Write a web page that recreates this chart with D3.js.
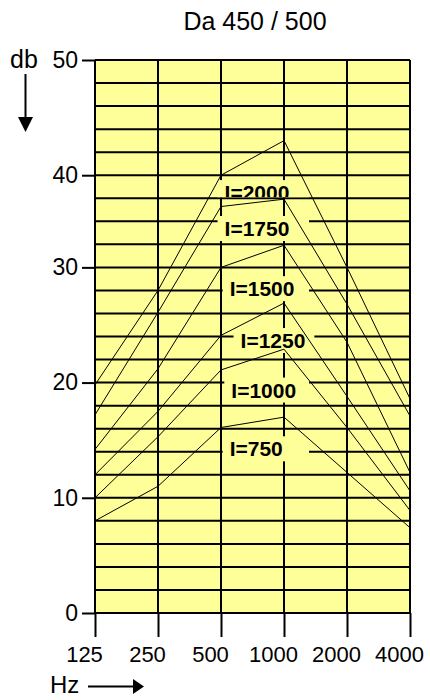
<!DOCTYPE html>
<html>
<head>
<meta charset="utf-8">
<title>Da 450 / 500</title>
<script src="https://cdn.jsdelivr.net/npm/d3@7"></script>
<style>
  body { margin: 0; background: #fff; }
  svg text { font-family: Arial, "Liberation Sans", Helvetica, sans-serif; fill: #000; }
</style>
</head>
<body>
<div id="chart"></div>
<script>
  // frequencies (octaves) and dB scale as printed on the sheet
  var freqs = [125, 250, 500, 1000, 2000, 4000];
  var freqLabels = ["125", "250", "500", "1000", "2000", "4000"];
  var dbTicks = [0, 10, 20, 30, 40, 50];
  var dbTickRows = [0, 5, 10, 15, 19, 24]; // grid row each label sits on (30-40 has only 4 rows)
  var gridRows = 24;

  var seriesNames = ["I=2000", "I=1750", "I=1500", "I=1250", "I=1000", "I=750"];
  var db2000 = [19.8, 28.0, 40.0, 43.0, 30.0, 18.6];
  var db1750 = [17.2, 26.1, 36.6, 37.4, 26.8, 17.1];
  var db1500 = [14.2, 21.2, 30.0, 32.4, 23.5, 12.2];
  var db1250 = [12.0, 17.5, 24.1, 26.9, 18.8, 10.6];
  var db1000 = [10.0, 15.3, 21.1, 22.9, 16.1, 8.9];
  var db750 = [8.0, 11.0, 16.1, 17.0, 12.2, 7.4];
  var series = [db2000, db1750, db1500, db1250, db1000, db750];

  // where each curve's label sits (baseline level in dB, left edge in Hz)
  var labelDb = [37.3, 33.4, 27.5, 23.0, 18.7, 13.6];
  var labelHz = [520, 520, 550, 620, 560, 550];

  var width = 430, height = 700;
  var plotLeft = 95, plotRight = 410, plotTop = 60, plotBottom = 613;

  var svg = d3.select("#chart").append("svg")
    .attr("width", width)
    .attr("height", height);

  var x = d3.scaleLog().base(2).domain([125, 4000]).range([plotLeft, plotRight]);
  var row = d3.scaleLinear().domain([0, gridRows]).range([plotBottom, plotTop]);
  var y = d3.scaleLinear().domain(dbTicks).range(dbTickRows.map(function(r) { return row(r); }));

  // title
  svg.append("text")
    .attr("x", 255).attr("y", 30)
    .attr("text-anchor", "middle")
    .style("font-size", "25px")
    .text("Da 450 / 500");

  // plot background
  svg.append("rect")
    .attr("x", plotLeft).attr("y", plotTop)
    .attr("width", plotRight - plotLeft).attr("height", plotBottom - plotTop)
    .attr("fill", "#ffff99");

  // grid
  var grid = svg.append("g").attr("stroke", "#000").attr("stroke-width", 2);
  grid.selectAll("line.h").data(d3.range(gridRows + 1)).enter().append("line")
    .attr("class", "h")
    .attr("x1", plotLeft).attr("x2", plotRight)
    .attr("y1", function(d) { return row(d); })
    .attr("y2", function(d) { return row(d); });
  grid.selectAll("line.v").data(freqs).enter().append("line")
    .attr("class", "v")
    .attr("x1", function(d) { return x(d); })
    .attr("x2", function(d) { return x(d); })
    .attr("y1", plotTop).attr("y2", plotBottom);

  // axes
  var yAxis = svg.append("g")
    .attr("transform", "translate(" + plotLeft + ",0)")
    .call(d3.axisLeft(y).tickValues(dbTicks).tickSize(13).tickPadding(4).tickFormat(d3.format("d")));
  var xAxis = svg.append("g")
    .attr("transform", "translate(0," + plotBottom + ")")
    .call(d3.axisBottom(x).tickValues(freqs).tickSize(24).tickPadding(9)
      .tickFormat(function(d, i) { return freqLabels[i]; }));
  [yAxis, xAxis].forEach(function(a) {
    a.select(".domain").remove();
    a.selectAll(".tick line").attr("stroke", "#000").attr("stroke-width", 2);
    a.selectAll(".tick text").attr("fill", "#000")
      .style("font-family", "Arial, 'Liberation Sans', sans-serif");
  });
  yAxis.selectAll(".tick text").style("font-size", "23px");
  xAxis.selectAll(".tick text").style("font-size", "22px").attr("dx", -11);

  // axis captions with arrows
  svg.append("text").attr("x", 10).attr("y", 68).style("font-size", "25px").text("db");
  svg.append("line").attr("x1", 25.5).attr("x2", 25.5).attr("y1", 74).attr("y2", 120)
    .attr("stroke", "#000").attr("stroke-width", 2);
  svg.append("path").attr("d", "M18,117 L33,117 L25.5,132 Z").attr("fill", "#000");

  svg.append("text").attr("x", 50).attr("y", 693).style("font-size", "24px").text("Hz");
  svg.append("line").attr("x1", 88).attr("x2", 135).attr("y1", 686.5).attr("y2", 686.5)
    .attr("stroke", "#000").attr("stroke-width", 2);
  svg.append("path").attr("d", "M133,679 L133,694 L144,686.5 Z").attr("fill", "#000");

  // curve labels on yellow patches (they cover the grid)
  var rowYs = d3.range(gridRows + 1).map(function(r) { return row(r); });
  var labels = svg.append("g");
  seriesNames.forEach(function(name, i) {
    var tx = x(labelHz[i]), ty = y(labelDb[i]);
    var g = labels.append("g");
    var t = g.append("text")
      .attr("x", tx).attr("y", ty)
      .style("font-size", "21px").style("font-weight", "bold")
      .text(name);
    var bb = t.node().getBBox();
    // patch stops just above a grid line that runs through the foot of the text
    var below = rowYs.filter(function(r) { return r > ty - 2.5; });
    var boxBottom = below.length ? Math.min(ty + 5, d3.min(below) - 1) : ty + 5;
    var boxTop = ty - 20;
    var x0 = tx - 7, x1 = Math.max(bb.x + bb.width + 9, 309);
    var clipId = "clip" + i;
    g.append("clipPath").attr("id", clipId).append("rect")
      .attr("x", x0).attr("y", boxTop).attr("width", x1 - x0).attr("height", boxBottom - boxTop);
    g.insert("rect", "text")
      .attr("x", x0).attr("y", boxTop)
      .attr("width", x1 - x0).attr("height", boxBottom - boxTop)
      .attr("fill", "#ffff99");
    t.attr("clip-path", "url(#" + clipId + ")");
  });

  // curves
  var line = d3.line()
    .x(function(d, i) { return x(freqs[i]); })
    .y(function(d) { return y(d); });
  svg.append("g").selectAll("path").data(series).enter().append("path")
    .attr("d", line)
    .attr("fill", "none")
    .attr("stroke", "#000")
    .attr("stroke-width", 1);
</script>
</body>
</html>
